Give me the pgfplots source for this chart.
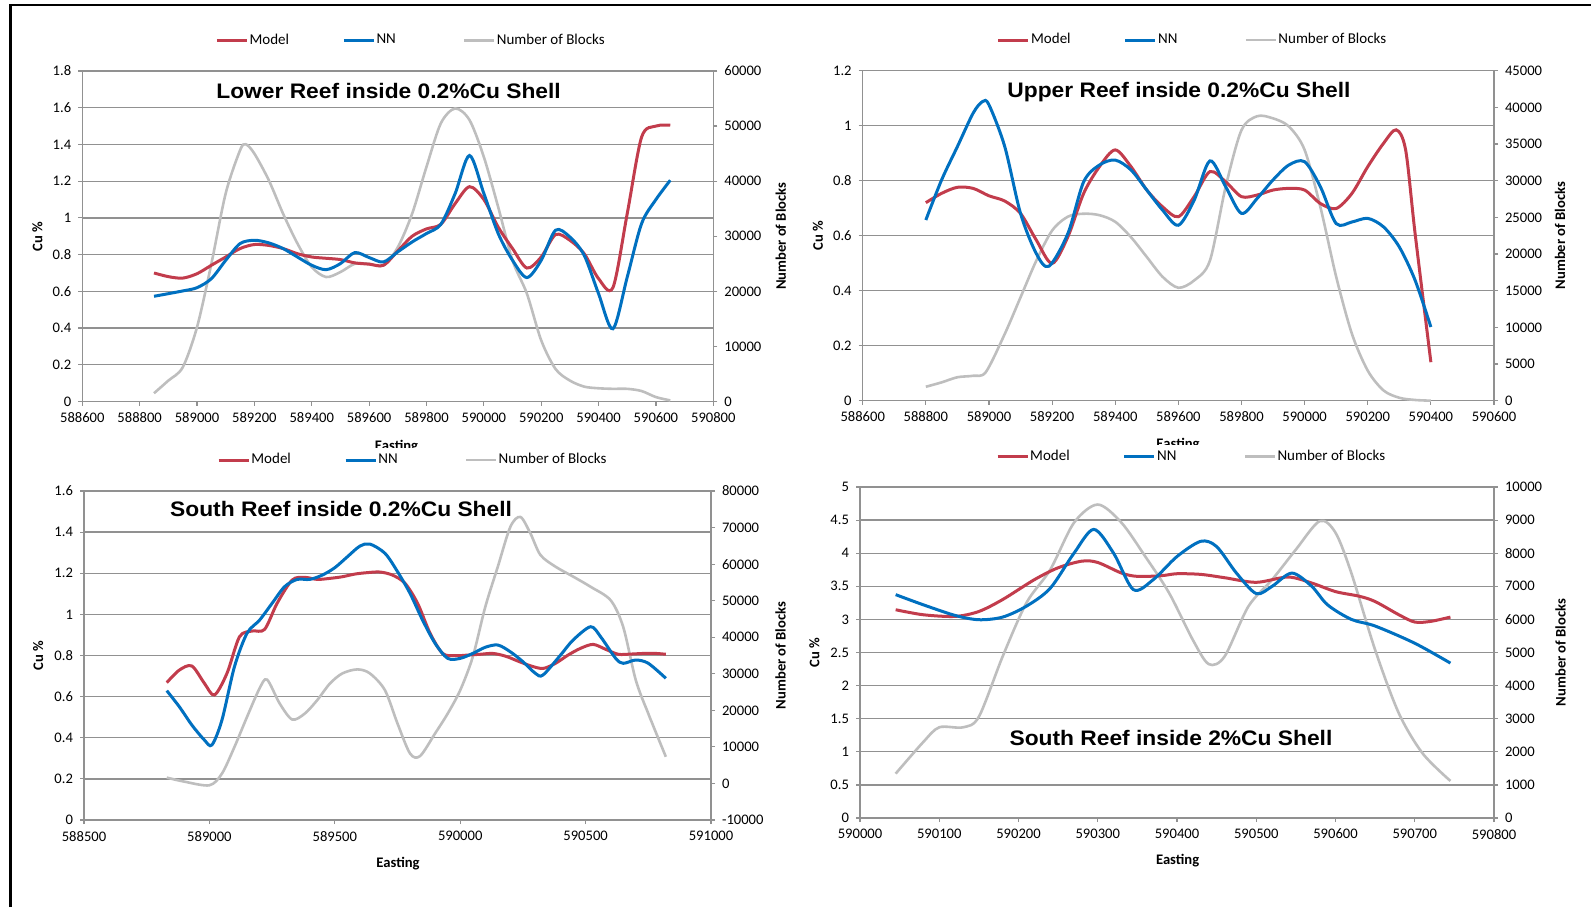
\documentclass[border=0pt]{standalone}
\usepackage{fontspec}
\setmainfont{Carlito}
\newfontfamily\titlefont{Liberation Sans}
\usepackage{graphicx}
\usepackage{pgfplots}
\pgfplotsset{compat=1.18}
\definecolor{modelred}{RGB}{194,60,76}
\definecolor{nnblue}{RGB}{0,112,192}
\definecolor{nobgray}{RGB}{190,190,190}
\definecolor{gridgray}{RGB}{145,145,145}
\newcommand{\axlab}{\bfseries\fontsize{7.3}{8}\selectfont}
\newcommand{\ttl}[1]{\scalebox{1.085}[1]{\titlefont\bfseries\fontsize{10.5}{12}\selectfont #1}}
\pgfplotsset{
  base/.style={scale only axis, anchor=south west, tick align=outside, major tick length=2pt,
    every tick/.style={gridgray, line width=0.6pt},
    axis line style={gridgray, line width=0.7pt},
    ticklabel style={font=\fontsize{7.3}{8}\selectfont},
    scaled ticks=false, clip=false},
  prim/.style={base, ymajorgrids, major grid style={gridgray, line width=0.65pt}, xtick pos=lower, ytick pos=left},
  sec/.style={base, axis x line=none, axis y line*=right},
  over/.style={base, hide axis},
  modelp/.style={modelred, line width=1.5pt, smooth},
  nnp/.style={nnblue, line width=1.5pt, smooth},
  nobp/.style={nobgray, line width=1.3pt, smooth},
  leg/.style={legend columns=3, legend cell align=left,
    legend style={draw=none, fill=none, inner sep=0pt, anchor=west, at={#1},
      font=\fontsize{7.5}{9}\selectfont,
      /tikz/every odd column/.style={column sep=0pt},
      /tikz/column 2/.style={column sep=26pt},
      /tikz/column 4/.style={column sep=33pt},
      nodes={inner xsep=0.6pt, inner ysep=1pt}},
    legend image code/.code={\draw[##1] (0pt,0pt) -- (15pt,0pt);}},
}
\begin{document}
\begin{tikzpicture}
\path[use as bounding box] (0,0) rectangle (795.5pt,453.5pt);

% ---------------- Panel 1 ----------------
\begin{axis}[prim, at={(41.15pt,252.75pt)}, width=315.5pt, height=165.25pt,
  xmin=588600, xmax=590800,
  xtick={588600,588800,589000,589200,589400,589600,589800,590000,590200,590400,590600,590800},
  xticklabels={588600,588800,589000,589200,589400,589600,589800,590000,590200,590400,590600,590800},
  ymin=0, ymax=1.8, ytick={0,0.2,0.4,0.6,0.8,1,1.2,1.4,1.6,1.8},
  yticklabels={0,0.2,0.4,0.6,0.8,1,1.2,1.4,1.6,1.8}]
\node[rotate=90, font=\axlab] at (axis description cs:-0.071,0.5) {Cu \%};
\node[rotate=90, font=\axlab] at (axis description cs:1.107,0.5) {Number of Blocks};
\node[anchor=base, font=\axlab] at (axis description cs:0.498,-0.149) {Easting};
\node[anchor=base] at (axis description cs:0.4854,0.918) {\ttl{Lower Reef inside 0.2\%Cu Shell}};
\end{axis}
\begin{axis}[sec, at={(41.15pt,252.75pt)}, width=315.5pt, height=165.25pt,
  xmin=588600, xmax=590800, ymin=0, ymax=60000,
  ytick={0,10000,20000,30000,40000,50000,60000},
  yticklabels={0,10000,20000,30000,40000,50000,60000}]
\addplot[nobp] coordinates {(588850,1500) (588900,3800) (588950,6200) (589000,13500) (589050,25000) (589100,37800) (589150,45600) (589170,46700) (589200,45000) (589250,40200) (589300,34100) (589350,28700) (589400,24400) (589450,22600) (589500,23500) (589550,25000) (589600,25000) (589650,24700) (589700,28000) (589750,34100) (589800,42600) (589850,50500) (589900,53200) (589950,51100) (590000,44400) (590050,35300) (590100,25600) (590150,19600) (590200,11100) (590250,5900) (590300,3800) (590350,2700) (590400,2400) (590450,2300) (590500,2300) (590550,1900) (590600,800) (590650,200)};
\end{axis}
\begin{axis}[over, at={(41.15pt,252.75pt)}, width=315.5pt, height=165.25pt,
  xmin=588600, xmax=590800, ymin=0, ymax=1.8, leg={(0.2103,1.092)}]
\addplot[modelp] coordinates {(588850,0.70) (588900,0.68) (588950,0.672) (589000,0.696) (589050,0.742) (589100,0.787) (589150,0.833) (589200,0.855) (589250,0.85) (589300,0.833) (589350,0.805) (589400,0.787) (589450,0.78) (589500,0.773) (589550,0.755) (589600,0.748) (589650,0.742) (589700,0.82) (589750,0.9) (589800,0.94) (589850,0.965) (589900,1.078) (589950,1.17) (590000,1.1) (590050,0.95) (590100,0.833) (590150,0.727) (590200,0.787) (590250,0.909) (590300,0.878) (590350,0.805) (590400,0.669) (590450,0.62) (590500,1.024) (590550,1.44) (590600,1.5) (590650,1.505)};
\addlegendentry{Model}
\addplot[nnp] coordinates {(588850,0.573) (588950,0.602) (589000,0.62) (589050,0.669) (589100,0.769) (589150,0.86) (589200,0.878) (589250,0.864) (589300,0.833) (589350,0.787) (589400,0.742) (589450,0.718) (589500,0.751) (589550,0.811) (589600,0.784) (589650,0.76) (589700,0.815) (589750,0.869) (589800,0.915) (589850,0.965) (589900,1.133) (589950,1.34) (590000,1.133) (590050,0.915) (590100,0.769) (590150,0.675) (590200,0.769) (590250,0.933) (590300,0.896) (590350,0.796) (590400,0.587) (590450,0.396) (590500,0.678) (590550,0.969) (590600,1.1) (590650,1.205)};
\addlegendentry{NN}
\addlegendimage{nobp}
\addlegendentry{Number of Blocks}
\end{axis}

% ---------------- Panel 2 ----------------
\begin{axis}[prim, at={(431.35pt,253.15pt)}, width=315.65pt, height=165pt,
  xmin=588600, xmax=590600,
  xtick={588600,588800,589000,589200,589400,589600,589800,590000,590200,590400,590600},
  xticklabels={588600,588800,589000,589200,589400,589600,589800,590000,590200,590400,590600},
  ymin=0, ymax=1.2, ytick={0,0.2,0.4,0.6,0.8,1,1.2},
  yticklabels={0,0.2,0.4,0.6,0.8,1,1.2}]
\node[rotate=90, font=\axlab] at (axis description cs:-0.0708,0.5) {Cu \%};
\node[rotate=90, font=\axlab] at (axis description cs:1.1045,0.5) {Number of Blocks};
\node[anchor=base, font=\axlab] at (axis description cs:0.4995,-0.1455) {Easting};
\node[anchor=base] at (axis description cs:0.501,0.919) {\ttl{Upper Reef inside 0.2\%Cu Shell}};
\end{axis}
\begin{axis}[sec, at={(431.35pt,253.15pt)}, width=315.65pt, height=165pt,
  xmin=588600, xmax=590600, ymin=0, ymax=45000,
  ytick={0,5000,10000,15000,20000,25000,30000,35000,40000,45000},
  yticklabels={0,5000,10000,15000,20000,25000,30000,35000,40000,45000}]
\addplot[nobp] coordinates {(588800,1900) (588850,2500) (588900,3200) (588950,3400) (588990,3900) (589050,9100) (589100,14100) (589150,19100) (589200,23200) (589250,25100) (589300,25500) (589350,25300) (589400,24400) (589450,22300) (589500,19600) (589550,16900) (589600,15400) (589650,16400) (589700,19100) (589750,29200) (589800,36900) (589850,38800) (589900,38500) (589950,37400) (590000,34200) (590050,26400) (590100,16900) (590150,9100) (590200,4100) (590250,1400) (590300,400) (590350,100) (590400,0)};
\end{axis}
\begin{axis}[over, at={(431.35pt,253.15pt)}, width=315.65pt, height=165pt,
  xmin=588600, xmax=590600, ymin=0, ymax=1.2, leg={(0.212,1.093)}]
\addplot[modelp] coordinates {(588800,0.72) (588850,0.754) (588900,0.776) (588950,0.772) (589000,0.745) (589050,0.726) (589100,0.681) (589150,0.584) (589200,0.499) (589250,0.596) (589300,0.754) (589350,0.851) (589400,0.912) (589450,0.851) (589500,0.766) (589550,0.705) (589600,0.669) (589650,0.742) (589700,0.833) (589750,0.796) (589800,0.742) (589850,0.748) (589900,0.766) (589950,0.772) (590000,0.766) (590050,0.717) (590100,0.699) (590150,0.754) (590200,0.851) (590250,0.936) (590290,0.985) (590320,0.912) (590350,0.608) (590400,0.14)};
\addlegendentry{Model}
\addplot[nnp] coordinates {(588800,0.657) (588850,0.803) (588900,0.924) (588950,1.046) (588980,1.088) (589000,1.076) (589050,0.924) (589100,0.681) (589150,0.535) (589190,0.489) (589250,0.608) (589300,0.796) (589350,0.857) (589400,0.875) (589450,0.839) (589500,0.766) (589550,0.693) (589600,0.638) (589650,0.729) (589700,0.872) (589750,0.778) (589800,0.681) (589850,0.736) (589900,0.803) (589950,0.857) (590000,0.869) (590050,0.778) (590100,0.644) (590150,0.650) (590200,0.663) (590250,0.632) (590300,0.559) (590350,0.438) (590400,0.268)};
\addlegendentry{NN}
\addlegendimage{nobp}
\addlegendentry{Number of Blocks}
\end{axis}

% white chart areas of the lower charts (they hide the lower half of the upper "Easting")
\fill[white] (7pt,0pt) rectangle (400pt,229.5pt);
\fill[white] (400pt,0pt) rectangle (795.5pt,231pt);

% ---------------- Panel 3 ----------------
\begin{axis}[prim, at={(42pt,43.5pt)}, width=313.5pt, height=164.5pt,
  xmin=588500, xmax=591000,
  xtick={588500,589000,589500,590000,590500,591000},
  xticklabels={588500,589000,589500,590000,590500,591000},
  ymin=0, ymax=1.6, ytick={0,0.2,0.4,0.6,0.8,1,1.2,1.4,1.6},
  yticklabels={0,0.2,0.4,0.6,0.8,1,1.2,1.4,1.6}]
\node[rotate=90, font=\axlab] at (axis description cs:-0.073,0.5) {Cu \%};
\node[rotate=90, font=\axlab] at (axis description cs:1.111,0.5) {Number of Blocks};
\node[anchor=base, font=\axlab] at (axis description cs:0.5008,-0.145) {Easting};
\node[anchor=base] at (axis description cs:0.41,0.924) {\ttl{South Reef inside 0.2\%Cu Shell}};
\end{axis}
\begin{axis}[sec, at={(42pt,43.5pt)}, width=313.5pt, height=164.5pt,
  xmin=588500, xmax=591000, ymin=-10000, ymax=80000,
  ytick={-10000,0,10000,20000,30000,40000,50000,60000,70000,80000},
  yticklabels={-10000,0,10000,20000,30000,40000,50000,60000,70000,80000}]
\addplot[nobp] coordinates {(588830,1600) (588900,500) (589000,-500) (589050,2700) (589100,10000) (589150,18200) (589200,26000) (589230,28400) (589280,21900) (589330,17500) (589380,19100) (589430,22800) (589480,27300) (589530,30100) (589590,31200) (589640,30100) (589700,25500) (589750,16400) (589800,8200) (589840,7500) (589900,13700) (589950,19100) (590000,25500) (590050,34600) (590100,48300) (590150,59300) (590200,70200) (590240,72900) (590280,68400) (590320,62500) (590380,59300) (590450,56600) (590520,53800) (590600,50100) (590650,42800) (590700,28300) (590750,19100) (590820,7300)};
\end{axis}
\begin{axis}[over, at={(42pt,43.5pt)}, width=313.5pt, height=164.5pt,
  xmin=588500, xmax=591000, ymin=0, ymax=1.6, leg={(0.2118,1.094)}]
\addplot[modelp] coordinates {(588830,0.668) (588880,0.729) (588930,0.749) (588980,0.665) (589020,0.608) (589070,0.713) (589120,0.891) (589170,0.919) (589220,0.927) (589270,1.054) (589330,1.167) (589380,1.18) (589430,1.17) (589480,1.175) (589530,1.183) (589580,1.196) (589630,1.203) (589680,1.206) (589730,1.191) (589780,1.151) (589830,1.054) (589880,0.908) (589930,0.81) (589980,0.799) (590030,0.802) (590080,0.806) (590130,0.81) (590180,0.797) (590230,0.773) (590280,0.75) (590330,0.737) (590380,0.762) (590430,0.802) (590480,0.835) (590530,0.854) (590580,0.83) (590630,0.806) (590680,0.807) (590730,0.81) (590780,0.81) (590820,0.806)};
\addlegendentry{Model}
\addplot[nnp] coordinates {(588830,0.629) (588880,0.551) (588930,0.462) (588980,0.389) (589010,0.365) (589050,0.486) (589100,0.746) (589150,0.908) (589200,0.972) (589250,1.054) (589300,1.135) (589350,1.17) (589400,1.17) (589450,1.191) (589500,1.227) (589550,1.28) (589600,1.332) (589640,1.342) (589700,1.297) (589750,1.208) (589800,1.102) (589850,0.972) (589900,0.859) (589950,0.786) (590000,0.786) (590050,0.81) (590100,0.84) (590150,0.851) (590200,0.818) (590250,0.77) (590300,0.713) (590330,0.705) (590400,0.802) (590450,0.875) (590520,0.94) (590560,0.891) (590620,0.786) (590650,0.762) (590700,0.778) (590750,0.762) (590820,0.689)};
\addlegendentry{NN}
\addlegendimage{nobp}
\addlegendentry{Number of Blocks}
\end{axis}

% ---------------- Panel 4 ----------------
\begin{axis}[prim, at={(430pt,44.5pt)}, width=317pt, height=165.5pt,
  xmin=590000, xmax=590800,
  xtick={590000,590100,590200,590300,590400,590500,590600,590700,590800},
  xticklabels={590000,590100,590200,590300,590400,590500,590600,590700,590800},
  ymin=0, ymax=5, ytick={0,0.5,1,1.5,2,2.5,3,3.5,4,4.5,5},
  yticklabels={0,0.5,1,1.5,2,2.5,3,3.5,4,4.5,5}]
\node[rotate=90, font=\axlab] at (axis description cs:-0.0718,0.5) {Cu \%};
\node[rotate=90, font=\axlab] at (axis description cs:1.105,0.5) {Number of Blocks};
\node[anchor=base, font=\axlab] at (axis description cs:0.501,-0.140) {Easting};
\node[anchor=base] at (axis description cs:0.4905,0.2205) {\ttl{South Reef inside 2\%Cu Shell}};
\end{axis}
\begin{axis}[sec, at={(430pt,44.5pt)}, width=317pt, height=165.5pt,
  xmin=590000, xmax=590800, ymin=0, ymax=10000,
  ytick={0,1000,2000,3000,4000,5000,6000,7000,8000,9000,10000},
  yticklabels={0,1000,2000,3000,4000,5000,6000,7000,8000,9000,10000}]
\addplot[nobp] coordinates {(590045,1340) (590080,2300) (590100,2740) (590130,2740) (590150,3060) (590180,4880) (590210,6500) (590240,7500) (590270,8920) (590300,9470) (590330,8920) (590360,7900) (590390,6800) (590420,5380) (590440,4650) (590460,4880) (590490,6390) (590520,7200) (590550,8110) (590580,8970) (590600,8620) (590620,7400) (590650,5080) (590680,3160) (590710,1950) (590745,1120)};
\end{axis}
\begin{axis}[over, at={(430pt,44.5pt)}, width=317pt, height=165.5pt,
  xmin=590000, xmax=590800, ymin=0, ymax=5, leg={(0.2139,1.0915)}]
\addplot[modelp] coordinates {(590045,3.146) (590080,3.07) (590120,3.045) (590150,3.12) (590180,3.3) (590220,3.6) (590250,3.78) (590280,3.88) (590300,3.86) (590330,3.7) (590350,3.65) (590380,3.66) (590400,3.69) (590430,3.68) (590460,3.63) (590500,3.56) (590540,3.64) (590570,3.55) (590600,3.42) (590630,3.35) (590650,3.27) (590680,3.07) (590700,2.96) (590720,2.97) (590745,3.035)};
\addlegendentry{Model}
\addplot[nnp] coordinates {(590045,3.374) (590080,3.22) (590120,3.06) (590150,2.995) (590180,3.035) (590210,3.2) (590240,3.47) (590270,4.0) (590295,4.36) (590320,4.0) (590345,3.45) (590370,3.6) (590400,3.95) (590430,4.18) (590450,4.1) (590475,3.7) (590500,3.39) (590520,3.5) (590545,3.7) (590570,3.5) (590590,3.22) (590620,3.0) (590650,2.9) (590700,2.64) (590745,2.34)};
\addlegendentry{NN}
\addlegendimage{nobp}
\addlegendentry{Number of Blocks}
\end{axis}

% outer frame (left and top edges)
\draw[black, line width=1pt] (5.25pt,451pt) -- (795.5pt,451pt);
\draw[black, line width=1.5pt] (5.25pt,0pt) -- (5.25pt,451.5pt);
\end{tikzpicture}
\end{document}
